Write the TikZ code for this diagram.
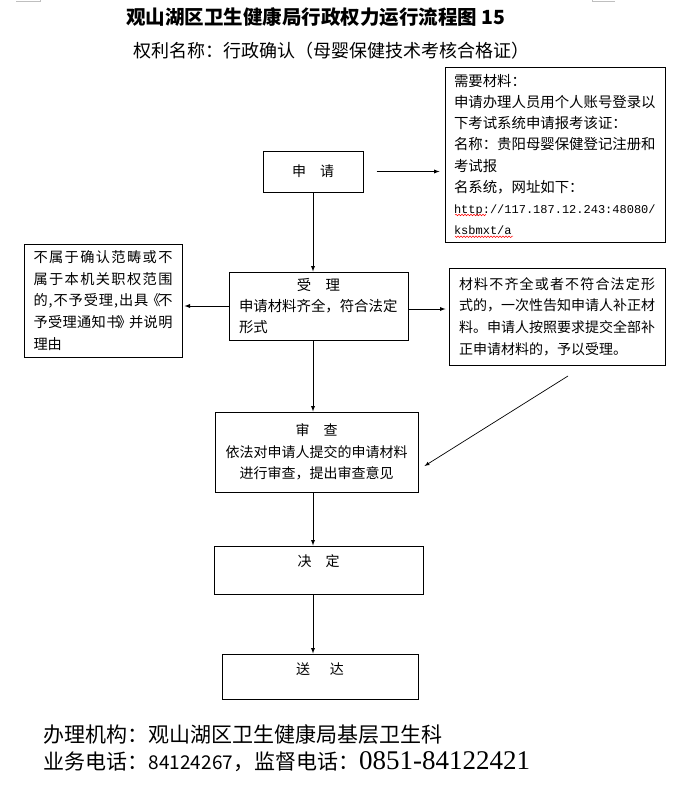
\documentclass[tikz,border=0pt]{standalone}
\usepackage{fontspec}
\setmainfont{Noto Sans CJK SC}
\newfontfamily\urlfont{Liberation Mono}
\newfontfamily\telfont{Liberation Serif}
\usetikzlibrary{decorations.pathmorphing}
\makeatletter
\def\spreadchars#1{#1\spreadnext}
\def\spreadnext#1{\ifx\relax#1\expandafter\@gobble\else\expandafter\@firstofone\fi{\hfil#1\spreadnext}}
\makeatother
\newcommand\fillline[2]{\makebox[#1][s]{\spreadchars#2\relax}}
\newcommand\lbk{\makebox[8pt]{《}}
\newcommand\rbk{\makebox[8pt]{》}}
\tikzset{
	box/.style={draw, line width=1pt, inner xsep=9pt, inner ysep=0pt, align=left},
	cbox/.style={box, align=center},
	wavy/.style={red, line width=0.5pt, decorate, decoration={snake, amplitude=0.8pt, segment length=3pt}}
}
\begin{document}
\begin{tikzpicture}[x=1pt, y=-1pt, >=latex, line width=0.9pt, font=\fontsize{14}{21.5}\selectfont]
				\useasboundingbox (0,0) rectangle (692,787);
				% crop marks
				\draw[gray!50, line width=0.8pt] (16,1)--(40,1)--(40,-1) (615,1)--(592,1)--(592,-1);
				% headings
				\node (title) at (316,17) {\fontsize{19.5}{19.5}\selectfont\bfseries 观山湖区卫生健康局行政权力运行流程图 15};
				\node (subtitle) at (331,51) {\fontsize{18}{18}\selectfont 权利名称：行政确认（母婴保健技术考核合格证）};
				% boxes
				\node[cbox, minimum width=100, minimum height=41] (shenqing) at (313,171.5) {申\quad 请};
				\node[box, text width=202, minimum height=175, font=\fontsize{14.4}{21.2}\selectfont] (cailiao) at (555,154.5)
				{需要材料：\\申请办理人员用个人账号登录以\\下考试系统申请报考该证：\\名称：贵阳母婴保健登记注册和\\考试报\\名系统，网址如下：\\{\urlfont\fontsize{12}{21.2}\selectfont http://117.187.12.243:48080/}\\{\urlfont\fontsize{12}{21.2}\selectfont ksbmxt/a}};
				\node[box, inner xsep=10pt, text width=159, minimum height=68, font=\fontsize{14.4}{21}\selectfont] (shouli) at (318.5,306)
				{\makebox[159pt]{受\quad 理}\\申请材料齐全，符合法定\\形式};
				\node[box, inner xsep=9.5pt, text width=139, minimum height=113, font=\fontsize{14.2}{21.7}\selectfont] (buyu) at (103,300.5)
				{\fillline{139pt}{不属于确认范畴或不}\\\fillline{139pt}{属于本机关职权范围}\\\fillline{139pt}{的,不予受理,出具\lbk 不}\\\fillline{139pt}{予受理通知书\rbk 并说明}\\理由};
				\node[box, inner xsep=10pt, text width=196, minimum height=97, font=\fontsize{14}{21.7}\selectfont] (buqi) at (557,316.5)
				{\fillline{196pt}{材料不齐全或者不符合法定形}\\\fillline{196pt}{式的，一次性告知申请人补正材}\\\fillline{196pt}{料。申请人按照要求提交全部补}\\正申请材料的，予以受理。};
				\node[cbox, minimum width=203, minimum height=80] (shencha) at (316.5,452)
				{审\quad 查\\依法对申请人提交的申请材料\\进行审查，提出审查意见};
				\node[cbox, minimum width=209, minimum height=48, text depth=18pt] (jueding) at (318.5,570) {决\quad 定};
				\node[cbox, minimum width=196, minimum height=45, text depth=15pt] (songda) at (320,676.5) {送\hspace{1.4em}达};
				% wavy marks under the address
				\draw[wavy] (455,215)--(485,215) (455,236)--(513,236);
				% connectors
				\coordinate (tail) at (568,376);
				\draw[->] ([xshift=13]shenqing.east) -- ([xshift=-5]shenqing.east -| cailiao.west);
				\draw[->] (shenqing.south) -- (shenqing.south |- shouli.north);
				\draw[->] (shouli.west) -- ([xshift=2]shouli.west -| buyu.east);
				\draw[->] ([yshift=-3]shouli.east) -- ([xshift=-3,yshift=-3]shouli.east -| buqi.west);
				\foreach \a/\b in {shouli/shencha, shencha/jueding, jueding/songda}{
				\draw[->] (\a.south -| shenqing) -- (\b.north -| shenqing);
				}
				\draw[->, line width=0.7pt] (tail) -- ([xshift=6,yshift=-14]shencha.east);
				% footer
				\node[anchor=base west, font=\fontsize{21}{21}\selectfont] (jigou) at (40,742) {办理机构：观山湖区卫生健康局基层卫生科};
				\node[anchor=base west, font=\fontsize{21}{21}\selectfont] (dianhua) at (40,769)
				{业务电话：{\fontsize{19}{19}\selectfont 84124267}，监督电话：{\telfont\fontsize{27}{27}\selectfont 0851-84122421}};
			\end{tikzpicture}
\end{document}
